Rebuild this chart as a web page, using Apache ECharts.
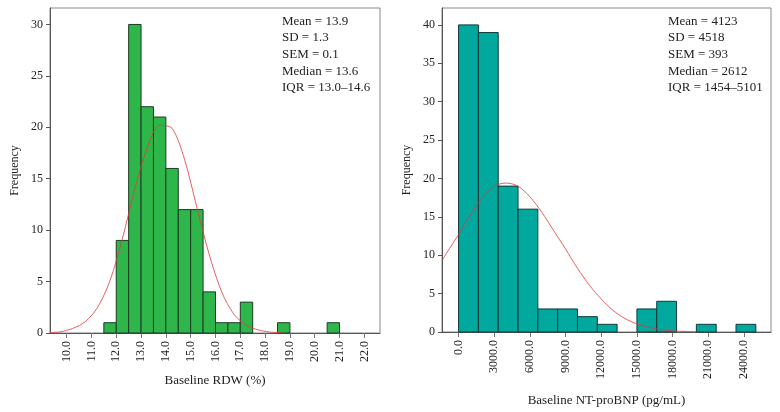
<!DOCTYPE html>
<html>
<head>
<meta charset="utf-8">
<script src="https://cdn.jsdelivr.net/npm/echarts@6/dist/echarts.min.js"></script>
<style>
html,body{margin:0;padding:0;background:#fff;}
#c{width:780px;height:412px;}
</style>
</head>
<body>
<div id="c"></div>
<script>
// ---- Left histogram: Baseline RDW (%) ----
var rdwBinStart = [11.5, 12.0, 12.5, 13.0, 13.5, 14.0, 14.5, 15.0, 15.5, 16.0, 16.5, 17.0, 18.5, 20.5];
var rdwBinEnd   = [12.0, 12.5, 13.0, 13.5, 14.0, 14.5, 15.0, 15.5, 16.0, 16.5, 17.0, 17.5, 19.0, 21.0];
var rdwCounts   = [1, 9, 30, 22, 21, 16, 12, 12, 4, 1, 1, 3, 1, 1];
var rdwCurveX   = [9.33, 9.75, 10.25, 10.75, 11.25, 11.75, 12.25, 12.75, 13.25, 13.75, 14.25, 14.75, 15.25, 15.75, 16.25, 16.75, 17.25, 17.75, 18.25, 18.75];
var rdwCurveY   = [0.05, 0.12, 0.45, 1.1, 2.5, 5.1, 9.2, 14.0, 18.0, 20.2, 19.9, 16.9, 12.2, 7.6, 4.0, 1.8, 0.75, 0.28, 0.08, 0.02];
var rdwTicks    = [10, 11, 12, 13, 14, 15, 16, 17, 18, 19, 20, 21, 22];
var rdwYTicks   = [0, 5, 10, 15, 20, 25, 30];
var rdwStats    = ['Mean = 13.9', 'SD = 1.3', 'SEM = 0.1', 'Median = 13.6', 'IQR = 13.0\u201314.6'];

// ---- Right histogram: Baseline NT-proBNP (pg/mL) ----
var bnpBinStart = [0, 1667, 3333, 5000, 6667, 8333, 10000, 11667, 15000, 16667, 20000, 23333];
var bnpBinEnd   = [1667, 3333, 5000, 6667, 8333, 10000, 11667, 13333, 16667, 18333, 21667, 25000];
var bnpCounts   = [40, 39, 19, 16, 3, 3, 2, 1, 3, 4, 1, 1];
var bnpCurveX   = [-1395, -1000, 0, 1000, 2000, 3000, 4000, 5000, 6000, 7000, 8000, 9000, 10000, 11000, 12000, 13000, 14000, 15000, 16000, 17000, 18000, 19000, 20000];
var bnpCurveY   = [9.3, 10.3, 12.7, 15.3, 17.5, 19.0, 19.4, 19.0, 17.6, 15.6, 13.2, 10.8, 8.3, 6.1, 4.3, 2.8, 1.75, 1.05, 0.6, 0.3, 0.15, 0.07, 0.03];
var bnpTicks    = [0, 3000, 6000, 9000, 12000, 15000, 18000, 21000, 24000];
var bnpYTicks   = [0, 5, 10, 15, 20, 25, 30, 35, 40];
var bnpStats    = ['Mean = 4123', 'SD = 4518', 'SEM = 393', 'Median = 2612', 'IQR = 1454\u20135101'];

var FONT = '"Liberation Serif", "DejaVu Serif", serif';
var chart = echarts.init(document.getElementById('c'), null, {renderer: 'canvas'});

function zip(a, b, c) {
  var out = [];
  for (var i = 0; i < a.length; i++) out.push(c ? [a[i], b[i], c[i]] : [a[i], b[i]]);
  return out;
}

function histSeries(idx, data, fill, stroke) {
  return {
    type: 'custom',
    xAxisIndex: idx, yAxisIndex: idx,
    data: data,
    z: 2,
    renderItem: function (params, api) {
      var p0 = api.coord([api.value(0), 0]);
      var p1 = api.coord([api.value(1), api.value(2)]);
      return {
        type: 'rect',
        shape: {x: p0[0], y: p1[1], width: p1[0] - p0[0], height: p0[1] - p1[1]},
        style: {fill: fill, stroke: stroke, lineWidth: 1}
      };
    },
    encode: {x: [0, 1], y: 2}
  };
}

function curveSeries(idx, data) {
  return {
    type: 'line', xAxisIndex: idx, yAxisIndex: idx,
    data: data, smooth: 0.3, showSymbol: false, symbol: 'none',
    z: 5, silent: true,
    lineStyle: {color: '#e23a3a', width: 1, opacity: 0.8}
  };
}

function xAxis(idx, min, max, ticks, name, gap) {
  return {
    type: 'value', gridIndex: idx, min: min, max: max,
    splitLine: {show: false},
    axisLine: {show: true, onZero: false, lineStyle: {color: '#555', width: 1}},
    axisTick: {show: true, length: 5, customValues: ticks, lineStyle: {color: '#777'}},
    axisLabel: {
      customValues: ticks, rotate: 90, margin: 8,
      fontFamily: FONT, fontSize: 12, color: '#222',
      formatter: function (v) { return v.toFixed(1); }
    },
    name: name, nameLocation: 'middle', nameGap: gap,
    nameTextStyle: {fontFamily: FONT, fontSize: 13, color: '#222'}
  };
}

function yAxis(idx, max, ticks) {
  return {
    type: 'value', gridIndex: idx, min: 0, max: max,
    splitLine: {show: false},
    axisLine: {show: true, onZero: false, lineStyle: {color: '#555', width: 1}},
    axisTick: {show: true, length: 4, customValues: ticks, lineStyle: {color: '#555'}},
    axisLabel: {customValues: ticks, margin: 7, fontFamily: FONT, fontSize: 12, color: '#222'},
    name: 'Frequency', nameLocation: 'middle', nameGap: 29,
    nameTextStyle: {fontFamily: FONT, fontSize: 12, color: '#222'}
  };
}

function statsText(left, lines) {
  return {
    type: 'text', left: left, top: 13, z: 10,
    style: {
      text: lines.join('\n'), font: '13px ' + FONT, fill: '#222',
      lineHeight: 16.6
    }
  };
}

chart.setOption({
  animation: false,
  backgroundColor: '#fff',
  grid: [
    {left: 50, top: 8, width: 330, height: 325, show: true, borderColor: '#888', borderWidth: 1, backgroundColor: '#fff'},
    {left: 442, top: 8, width: 329, height: 325, show: true, borderColor: '#888', borderWidth: 1, backgroundColor: '#fff'}
  ],
  xAxis: [
    xAxis(0, 9.33, 22.63, rdwTicks, 'Baseline RDW (%)', 41),
    xAxis(1, -1395, 26277, bnpTicks, 'Baseline NT-proBNP (pg/mL)', 62)
  ],
  yAxis: [
    yAxis(0, 31.6, rdwYTicks),
    yAxis(1, 42.2, bnpYTicks)
  ],
  graphic: [
    statsText(282, rdwStats),
    statsText(668, bnpStats)
  ],
  series: [
    histSeries(0, zip(rdwBinStart, rdwBinEnd, rdwCounts), '#2eb64b', '#1d3a25'),
    curveSeries(0, zip(rdwCurveX, rdwCurveY)),
    histSeries(1, zip(bnpBinStart, bnpBinEnd, bnpCounts), '#00a89e', '#0e3837'),
    curveSeries(1, zip(bnpCurveX, bnpCurveY))
  ]
});
</script>
</body>
</html>
